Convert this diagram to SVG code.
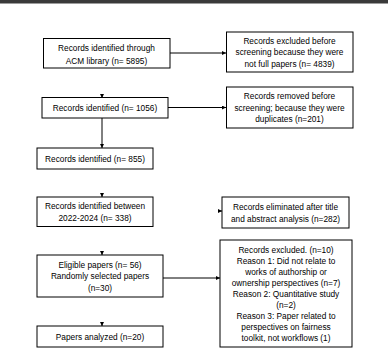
<svg xmlns="http://www.w3.org/2000/svg" width="388" height="348" viewBox="0 0 388 348">
<style>
.box{fill:#fff;stroke:#000;stroke-width:1}
.t{font-family:"Liberation Sans",Arial,sans-serif;font-size:8.3px;fill:#000;text-anchor:middle}
.c{stroke:#000;stroke-width:1;fill:none}
</style>
<defs>
<marker id="ah" viewBox="0 0 4 4" refX="4" refY="2" markerWidth="4" markerHeight="4" markerUnits="userSpaceOnUse" orient="auto">
<path d="M0,0 L4,2 L0,4 z" fill="#000"/>
</marker>
</defs>
<rect x="0" y="0" width="388" height="348" fill="#fff"/>
<rect x="0" y="0" width="388" height="3.5" fill="#3a3a3a"/>
<g id="connectors">
<line class="c" x1="170" y1="53" x2="226" y2="53" marker-end="url(#ah)"/>
<line class="c" x1="102" y1="94" x2="102" y2="98" marker-end="url(#ah)"/>
<line class="c" x1="168" y1="107.5" x2="226" y2="107.5" marker-end="url(#ah)"/>
<line class="c" x1="102" y1="118" x2="102" y2="148" marker-end="url(#ah)"/>
<line class="c" x1="102" y1="193" x2="102" y2="197" marker-end="url(#ah)"/>
<line class="c" x1="218" y1="211" x2="222" y2="211" marker-end="url(#ah)"/>
<line class="c" x1="102" y1="251" x2="102" y2="255" marker-end="url(#ah)"/>
<line class="c" x1="163" y1="278" x2="220" y2="278" marker-end="url(#ah)"/>
<line class="c" x1="102" y1="322" x2="102" y2="326" marker-end="url(#ah)"/>
</g>
<g id="n1"><rect class="box" x="43.5" y="38.5" width="126.5" height="29.5"/>
<text class="t" x="106.5" y="51">Records identified through</text>
<text class="t" x="106.5" y="63.5">ACM library (n= 5895)</text></g>
<g id="n2"><rect class="box" x="226.5" y="32" width="126.5" height="40"/>
<text class="t" x="289.5" y="43.5">Records excluded before</text>
<text class="t" x="289.5" y="55">screening because they were</text>
<text class="t" x="289.5" y="66.5">not full papers (n= 4839)</text></g>
<g id="n3"><rect class="box" x="42" y="97.5" width="126" height="20.5"/>
<text class="t" x="105" y="111">Records identified (n= 1056)</text></g>
<g id="n4"><rect class="box" x="226.5" y="87" width="126.5" height="41"/>
<text class="t" x="289.5" y="99">Records removed before</text>
<text class="t" x="289.5" y="110.5">screening; because they were</text>
<text class="t" x="289.5" y="122">duplicates (n=201)</text></g>
<g id="n5"><rect class="box" x="37" y="148" width="116" height="21"/>
<text class="t" x="95" y="161.5">Records identified (n= 855)</text></g>
<g id="n6"><rect class="box" x="37" y="197" width="116" height="29.5"/>
<text class="t" x="95" y="209">Records identified between</text>
<text class="t" x="95" y="221">2022-2024 (n= 338)</text></g>
<g id="n7"><rect class="box" x="222" y="197" width="127" height="31"/>
<text class="t" x="285.5" y="209.5">Records eliminated after title</text>
<text class="t" x="285.5" y="221.5">and abstract analysis (n=282)</text></g>
<g id="n8"><rect class="box" x="37" y="255" width="126" height="42"/>
<text class="t" x="100" y="267.5">Eligible papers (n= 56)</text>
<text class="t" x="100" y="279">Randomly selected papers</text>
<text class="t" x="100" y="290.5">(n=30)</text></g>
<g id="n9"><rect class="box" x="220" y="240" width="132" height="107"/>
<text class="t" x="286" y="252.5">Records excluded. (n=10)</text>
<text class="t" x="286" y="263.5">Reason 1: Did not relate to</text>
<text class="t" x="286" y="274.5">works of authorship or</text>
<text class="t" x="286" y="285.5">ownership perspectives (n=7)</text>
<text class="t" x="286" y="296.5">Reason 2: Quantitative study</text>
<text class="t" x="286" y="307.5">(n=2)</text>
<text class="t" x="286" y="318.5">Reason 3: Paper related to</text>
<text class="t" x="286" y="329.5">perspectives on fairness</text>
<text class="t" x="286" y="340.5">toolkit, not workflows (1)</text></g>
<g id="n10"><rect class="box" x="37" y="326" width="126" height="21"/>
<text class="t" x="100" y="339.5">Papers analyzed (n=20)</text></g>
</svg>
